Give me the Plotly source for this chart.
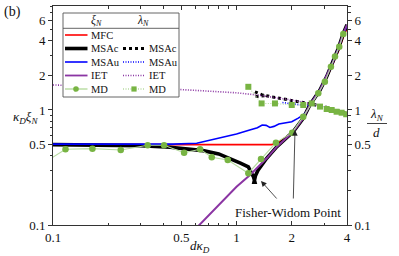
import plotly.graph_objects as go
import math

# ---------------- data ----------------
# xi_N curves (kappa_D xi_N) vs d*kappa_D
mfc_x = [0.1, 0.3, 0.6, 1.0, 1.3, 1.55, 1.66, 2.04, 2.31, 2.51, 2.85, 3.1, 3.3, 3.59, 3.82, 4.0]
mfc_y = [0.5, 0.5, 0.5, 0.5, 0.5, 0.5, 0.51, 0.648, 0.845, 1.10, 1.47, 1.9, 2.38, 3.25, 4.3, 5.1]

msac_x = [0.1, 0.2, 0.3, 0.435, 0.55, 0.657, 0.8, 0.922, 1.05, 1.16, 1.2, 1.24, 1.26, 1.245, 1.27, 1.31,
          1.46, 1.66, 2.04, 2.31, 2.51, 2.85, 3.1, 3.3, 3.59, 3.82, 4.0]
msac_y = [0.5, 0.497, 0.49, 0.475, 0.46, 0.443, 0.415, 0.38, 0.345, 0.32, 0.29, 0.26, 0.235, 0.235, 0.27, 0.30,
          0.38, 0.48, 0.648, 0.847, 1.105, 1.49, 1.95, 2.46, 3.44, 4.64, 5.5]

msau_x = [0.1, 0.3, 0.45, 0.607, 0.813, 1.0, 1.18, 1.3, 1.38, 1.45, 1.52, 1.6, 1.7, 1.84, 2.0, 2.17, 2.3, 2.4,
          2.51, 2.85, 3.1, 3.3, 3.59, 3.82, 4.0]
msau_y = [0.505, 0.503, 0.505, 0.513, 0.567, 0.618, 0.67, 0.70, 0.74, 0.735, 0.705, 0.72, 0.755, 0.77, 0.79, 0.85, 0.9, 0.96,
          1.105, 1.49, 1.95, 2.46, 3.44, 4.6, 5.4]

iet_x = [0.6, 0.813, 1.0, 1.185, 1.34, 1.46, 1.66, 1.85, 2.04, 2.31, 2.51, 2.85, 3.1, 3.3, 3.59, 3.82, 4.0]
iet_y = [0.093, 0.155, 0.215, 0.272, 0.331, 0.38, 0.48, 0.56, 0.648, 0.847, 1.105, 1.49, 1.95, 2.46, 3.44, 4.64, 5.5]

md_x = [0.09, 0.117, 0.164, 0.234, 0.328, 0.403, 0.518, 0.633, 0.733, 0.896, 1.16, 1.36, 1.64, 2.01, 2.31,
        2.79, 3.03, 3.27, 3.44, 3.63, 3.82]
md_y = [0.35, 0.455, 0.461, 0.449, 0.493, 0.493, 0.425, 0.455, 0.388, 0.367, 0.282, 0.375, 0.52, 0.635, 0.875,
        1.40, 1.76, 2.38, 2.91, 3.55, 4.58]

# lambda_N / d curves
msac_l_x = [1.26, 1.37, 1.52, 1.73, 2.0, 2.31, 2.51, 2.85, 3.23, 3.66, 3.96, None, 1.27, 1.33, 1.42]
msac_l_y = [1.44, 1.36, 1.31, 1.26, 1.22, 1.17, 1.14, 1.09, 1.035, 0.966, 0.936, None, 1.31, 1.32, 1.33]

msau_l_x = [1.78, 2.0, 2.3, 2.6, 2.85, 3.23, 3.66, 3.96]
msau_l_y = [1.16, 1.13, 1.10, 1.10, 1.08, 1.03, 0.966, 0.935]

iet_l_x = [0.1, 0.2, 0.35, 0.6, 1.0, 1.3, 1.6, 2.0, 2.5, 3.0, 3.5, 4.0]
iet_l_y = [1.65, 1.60, 1.55, 1.48, 1.41, 1.35, 1.29, 1.22, 1.14, 1.07, 0.99, 0.92]

md_l_x = [1.16, 1.37, 1.62, 2.0, 2.31, 2.57, 2.85, 3.10, 3.30, 3.51, 3.74, 3.96]
md_l_y = [1.59, 1.14, 1.14, 1.105, 1.105, 1.14, 1.07, 1.02, 1.0, 0.966, 0.947, 0.918]

x_ticks = [0.1, 0.5, 1, 2, 4]
x_ticklabels = ["0.1", "0.5", "1", "2", "4"]
y_ticks = [0.1, 0.5, 1, 2, 4, 6]
y_ticklabels = ["0.1", "0.5", "1", "2", "4", "6"]
x_minor = [0.2, 0.3, 0.4, 0.6, 0.7, 0.8, 0.9, 3]
y_minor = [0.2, 0.3, 0.4, 0.6, 0.7, 0.8, 0.9, 3, 5, 7, 8]

# ---------------- styles ----------------
RED = "#ff0000"
BLACK = "#000000"
BLUE = "#0000ff"
PURPLE = "#8b35a3"
GREEN_M = "#78b443"
GREEN_L = "#b7dba0"
FONT = "'Liberation Serif', 'DejaVu Serif', 'Times New Roman', serif"

W, H = 399, 256
L, R, T, B = 53, 52, 6, 31
PW, PH = W - L - R, H - T - B


def P(x, y):
    return (x - L) / PW, (H - B - y) / PH


fig = go.Figure()
fig.add_trace(go.Scatter(x=mfc_x, y=mfc_y, mode="lines", line=dict(color=RED, width=1.6), showlegend=False))
fig.add_trace(go.Scatter(x=msac_x, y=msac_y, mode="lines", line=dict(color=BLACK, width=3.6), showlegend=False))
fig.add_trace(go.Scatter(x=msau_x, y=msau_y, mode="lines", line=dict(color=BLUE, width=1.6), showlegend=False))
fig.add_trace(go.Scatter(x=iet_x, y=iet_y, mode="lines", line=dict(color=PURPLE, width=2.0), showlegend=False))

fig.add_trace(go.Scatter(x=msau_l_x, y=msau_l_y, mode="lines", yaxis="y2",
                         line=dict(color=BLUE, width=1.6, dash="1px,1.5px"), showlegend=False))
fig.add_trace(go.Scatter(x=msac_l_x, y=msac_l_y, mode="lines", yaxis="y2",
                         line=dict(color=BLACK, width=3.0, dash="3px,3px"), showlegend=False))
fig.add_trace(go.Scatter(x=iet_l_x, y=iet_l_y, mode="lines", yaxis="y2",
                         line=dict(color=PURPLE, width=1.6, dash="1px,1.5px"), showlegend=False))

fig.add_trace(go.Scatter(x=md_x, y=md_y, mode="lines+markers",
                         line=dict(color=GREEN_L, width=1.1),
                         marker=dict(color=GREEN_M, size=6.5, symbol="circle"), showlegend=False))
fig.add_trace(go.Scatter(x=md_l_x, y=md_l_y, mode="lines+markers", yaxis="y2",
                         line=dict(color=GREEN_L, width=1.1, dash="1px,1.5px"),
                         marker=dict(color=GREEN_M, size=6, symbol="square"), showlegend=False))

axis_common = dict(
    type="log",
    showgrid=False,
    zeroline=False,
    showline=True,
    linecolor="#333333",
    linewidth=1,
    tickcolor="#333333",
    ticklen=4,
    tickwidth=1,
    tickfont=dict(family=FONT, size=13, color="#111111"),
)

fig.update_layout(
    width=W, height=H,
    margin=dict(l=L, r=R, t=T, b=B),
    paper_bgcolor="white",
    plot_bgcolor="white",
    showlegend=False,
    font=dict(family=FONT),
    xaxis=dict(**axis_common, range=[-1, math.log10(4)], tickmode="array", tickvals=x_ticks,
               ticktext=x_ticklabels, ticks="inside", mirror="ticks",
               minor=dict(tickmode="array", tickvals=x_minor, ticks="inside", ticklen=2.5,
                          tickcolor="#333333")),
    yaxis=dict(**axis_common, range=[-1, 0.904], tickmode="array", tickvals=y_ticks,
               ticktext=y_ticklabels, ticks="outside",
               minor=dict(tickmode="array", tickvals=y_minor, ticks="outside", ticklen=2.5,
                          tickcolor="#333333")),
    yaxis2=dict(**axis_common, range=[-1, 0.904], tickmode="array", tickvals=y_ticks,
                ticktext=y_ticklabels, ticks="outside", overlaying="y", side="right",
                minor=dict(tickmode="array", tickvals=y_minor, ticks="outside", ticklen=2.5,
                           tickcolor="#333333")),
)

shapes = []
annotations = []


def text(x, y, s, size=11, xanchor="center"):
    px_, py_ = P(x, y)
    annotations.append(dict(x=px_, y=py_, xref="paper", yref="paper", text=s, showarrow=False,
                            xanchor=xanchor, yanchor="middle",
                            font=dict(family=FONT, size=size, color="#111111")))


def hline(x0, x1, y, color, width, dash="solid"):
    a0, b0 = P(x0, y)
    a1, _ = P(x1, y)
    shapes.append(dict(type="line", xref="paper", yref="paper", x0=a0, x1=a1, y0=b0, y1=b0,
                       line=dict(color=color, width=width, dash=dash), layer="above"))


# legend box
bx0, by0 = P(63, 13)
bx1, by1 = P(179, 97)
shapes.append(dict(type="rect", xref="paper", yref="paper", x0=bx0, x1=bx1, y0=by1, y1=by0,
                   line=dict(color="#555555", width=0.9), fillcolor="white", layer="above"))
hline(63, 179, 28.3, "#555555", 0.9)
text(96, 21, "<i>ξ<sub>N</sub></i>", size=11.5)
text(143, 21, "<i>λ<sub>N</sub></i>", size=11.5)

rows = [35, 48.5, 62, 75.5, 89]
labels = ["MFC", "MSAc", "MSAu", "IET", "MD"]
xi_styles = [(RED, 1.6, "solid"), (BLACK, 3.6, "solid"), (BLUE, 1.6, "solid"), (PURPLE, 1.8, "solid"),
             (GREEN_L, 1.4, "solid")]
lam_styles = [None, (BLACK, 3.0, "3px,3px"), (BLUE, 1.4, "1px,1.5px"), (PURPLE, 1.4, "1px,1.5px"),
              (GREEN_L, 1.4, "1px,1.5px")]
for yy, lab, xs, ls in zip(rows, labels, xi_styles, lam_styles):
    hline(65, 87.5, yy, xs[0], xs[1], xs[2])
    text(88.5, yy, lab, size=10.5, xanchor="left")
    if ls is not None:
        hline(123, 145, yy, ls[0], ls[1], ls[2])
        text(146.5, yy, lab, size=10.5, xanchor="left")

# MD legend markers
cx, cy = P(76, 89)
rx, ry = 2.8 / PW, 2.8 / PH
shapes.append(dict(type="circle", xref="paper", yref="paper", x0=cx - rx, x1=cx + rx, y0=cy - ry, y1=cy + ry,
                   fillcolor=GREEN_M, line=dict(color=GREEN_M, width=0), layer="above"))
sx, sy = P(134, 89)
rx, ry = 2.6 / PW, 2.6 / PH
shapes.append(dict(type="rect", xref="paper", yref="paper", x0=sx - rx, x1=sx + rx, y0=sy - ry, y1=sy + ry,
                   fillcolor=GREEN_M, line=dict(color=GREEN_M, width=0), layer="above"))

# axis labels
text(12, 12, "(b)", size=14)
text(25, 117, "<i>κ<sub>D</sub>ξ<sub>N</sub></i>", size=13)
text(377, 114, "<i>λ<sub>N</sub></i>", size=13)
a0, b0 = P(367, 123.5)
a1, _ = P(387, 123.5)
shapes.append(dict(type="line", xref="paper", yref="paper", x0=a0, x1=a1, y0=b0, y1=b0,
                   line=dict(color="#111111", width=0.8)))
text(377, 132, "<i>d</i>", size=13)
text(200, 246.5, "<i>dκ<sub>D</sub></i>", size=13)

# Fisher-Widom annotation
text(288, 212, "Fisher-Widom Point", size=13)
for (hx, hy, tx, ty) in [(261, 181, 278, 200), (295, 130, 293.3, 200)]:
    ax_, ay_ = P(hx, hy)
    annotations.append(dict(x=ax_, y=ay_, xref="paper", yref="paper", text="", showarrow=True,
                            ax=tx - hx, ay=ty - hy, arrowhead=2, arrowsize=1.4, arrowwidth=0.8,
                            arrowcolor="#222222"))

fig.update_layout(shapes=shapes, annotations=annotations)
fig.write_html("out.html", config={"displayModeBar": False},
               post_script="document.body.style.margin='0';document.body.style.overflow='hidden';")
